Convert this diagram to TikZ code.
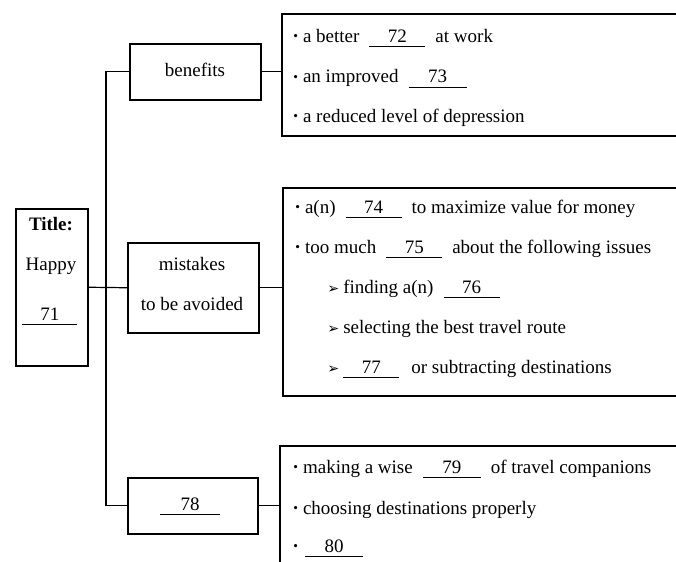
\documentclass[tikz,border=0pt]{standalone}
\usepackage{fontspec}
\setmainfont{Liberation Serif}
\newfontfamily\symfont{DejaVu Sans}
\usetikzlibrary{positioning}
\newcommand{\nblank}[2]{\rlap{\rule[-2.5pt]{#1}{0.5pt}}\makebox[#1]{#2}\hspace{5pt}}
\newcommand{\blank}[2]{\hspace{5pt}\nblank{#1}{#2}}
\newcommand{\dotbul}{\raisebox{0.8pt}{\scalebox{0.7}{\textbullet}}\hspace{2.5pt}}
\newcommand{\arrbul}{{\symfont\scalebox{0.75}{➢}}\hspace{2pt}}
\tikzstyle{frame} = [rectangle, draw=black, line width=0.75pt, inner sep=0pt, anchor=north west]
\tikzstyle{listbox} = [frame, minimum width=225pt]
\tikzstyle{txt} = [inner sep=0pt, anchor=base, font=\fontsize{9.5}{11}\selectfont]
\tikzstyle{item} = [txt, anchor=base west]
\tikzstyle{link} = [line width=0.6pt]

\begin{document}
\begin{tikzpicture}[x=0.5pt, y=-0.5pt]
\useasboundingbox (0,0) rectangle (676,562);
\clip (0,0) rectangle (676,562);
%left part
\node[frame, minimum width=36pt, minimum height=78.5pt](title) at (15,208){};
\node[txt, font=\fontsize{9.5}{11}\selectfont\bfseries](t1) at (51,230){Title:};
\node[txt](t2) at (51,270){Happy};
\node[txt](t3) at (50,320){\rlap{\rule[-2.5pt]{27.5pt}{0.5pt}}\makebox[27.5pt]{71}};
\node[frame, minimum width=65.5pt, minimum height=28pt](benefits) at (129,43){};
\node[txt](bt) at (195,76){benefits};
\node[frame, minimum width=65.5pt, minimum height=45pt](mistakes) at (127,242){};
\node[txt](mt1) at (192,270){mistakes};
\node[txt](mt2) at (192,310){to be avoided};
\node[frame, minimum width=65pt, minimum height=28pt](tips) at (127,477){};
\node[txt](tt) at (190,510){\rlap{\rule[-2.5pt]{30pt}{0.5pt}}\makebox[30pt]{78}};
%right part
\node[listbox, minimum height=61pt](benlist) at (281,13){};
\node[item](b1) at (293,42){\dotbul a better\blank{28pt}{72}at work};
\node[item](b2) at (293,83){\dotbul an improved\blank{29pt}{73}};
\node[item](b3) at (293,122){\dotbul a reduced level of depression};
\node[listbox, minimum height=104pt](mislist) at (282,187){};
\node[item](m1) at (295,213){\dotbul a(n)\blank{28pt}{74}to maximize value for money};
\node[item](m2) at (295,253){\dotbul too much\blank{28pt}{75}about the following issues};
\node[item](m3) at (327,293){\arrbul finding a(n)\blank{28pt}{76}};
\node[item](m4) at (327,333){\arrbul selecting the best travel route};
\node[item](m5) at (327,373){\arrbul\nblank{28pt}{77}\hspace{1pt}or subtracting destinations};
\node[listbox, minimum height=72pt](tiplist) at (279,445){};
\node[item](p1) at (293,473){\dotbul making a wise\blank{29pt}{79}of travel companions};
\node[item](p2) at (293,514){\dotbul choosing destinations properly};
\node[item](p3) at (293,552){\dotbul\hspace{1pt}\nblank{29pt}{80}};
%connectors
\draw [link] (title.east) -- (mistakes.west);
\draw [link] (benefits.west) -- ++(-23,0) |- (tips.west);
\draw [link] (benefits.east) -- (benefits.east -| benlist.west);
\draw [link] (mistakes.east) -- (mistakes.east -| mislist.west);
\draw [link] (tips.east) -- (tips.east -| tiplist.west);
\end{tikzpicture}
\end{document}
